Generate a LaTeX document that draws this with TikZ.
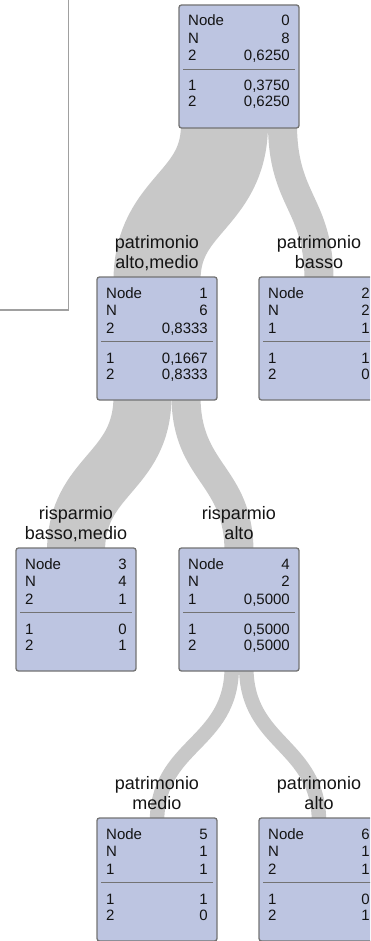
\documentclass[tikz,border=0pt]{standalone}
\usepackage{fontspec}
\setmainfont{Liberation Sans}
\usetikzlibrary{calc}
\definecolor{boxfill}{RGB}{189,197,225}
\definecolor{boxline}{RGB}{115,115,115}
\definecolor{bandcol}{RGB}{200,200,200}
\definecolor{framecol}{RGB}{160,160,160}
\definecolor{txtcol}{RGB}{20,20,20}
\pgfdeclarelayer{bg}
\pgfsetlayers{bg,main}
\tikzset{
  tbox/.style={draw=boxline, line width=1.3pt, fill=boxfill, rounded corners=2.5pt,
    anchor=north west, minimum width=120pt, minimum height=123pt, inner sep=0pt, outer sep=0pt},
  tl/.style={anchor=base west, inner sep=0pt, text=txtcol, font=\fontsize{15}{16}\selectfont},
  tr/.style={anchor=base east, inner sep=0pt, text=txtcol, font=\fontsize{15}{16}\selectfont},
  lab/.style={anchor=base, inner sep=0pt, text=txtcol, font=\fontsize{18}{20}\selectfont},
  sepline/.style={draw=boxline, line width=1.2pt},
  band/.style={draw=bandcol, line cap=butt},
  frameline/.style={draw=framecol, line width=1.2pt}
}
\newcommand\treebox[9]{%
  \node[tbox] (#1) at (#2,-#3) {};
  \node[tl] (#1-a) at ([xshift=9pt,yshift=-21pt]#1.north west) {Node};
  \node[tr] (#1-b) at ([xshift=-9pt,yshift=-21pt]#1.north east) {#4};
  \node[tl] (#1-c) at ([xshift=9pt,yshift=-38.5pt]#1.north west) {N};
  \node[tr] (#1-d) at ([xshift=-9pt,yshift=-38.5pt]#1.north east) {#5};
  \node[tl] (#1-e) at ([xshift=9pt,yshift=-56pt]#1.north west) {#6};
  \node[tr] (#1-f) at ([xshift=-9pt,yshift=-56pt]#1.north east) {#7};
  \draw[sepline] ([xshift=4pt,yshift=-64.5pt]#1.north west) -- ([xshift=-4pt,yshift=-64.5pt]#1.north east);
  \node[tl] (#1-g) at ([xshift=9pt,yshift=-86pt]#1.north west) {1};
  \node[tr] (#1-h) at ([xshift=-9pt,yshift=-86pt]#1.north east) {#8};
  \node[tl] (#1-i) at ([xshift=9pt,yshift=-102pt]#1.north west) {2};
  \node[tr] (#1-j) at ([xshift=-9pt,yshift=-102pt]#1.north east) {#9};
}
\newcommand\boxlabel[3]{%
  \node[lab] (#1-la) at ([yshift=29pt]#1.north) {#2};
  \node[lab] (#1-lb) at ([yshift=9pt]#1.north) {#3};
}
\begin{document}
\begin{tikzpicture}[x=1pt,y=1pt]
\useasboundingbox (0,0) rectangle (370,-941);
\clip (0,0) rectangle (370,-941);
% left panel frame
\coordinate (fa) at (-5,-310);
\coordinate (fb) at (68.3,-310);
\coordinate (fc) at (68.3,5);
\draw[frameline] (fa) -- (fb) -- (fc);
% boxes
\treebox{n0}{179}{5}{0}{8}{2}{0,6250}{0,3750}{0,6250}
\treebox{n1}{97}{277}{1}{6}{2}{0,8333}{0,1667}{0,8333}
\treebox{n2}{259}{277}{2}{2}{1}{1}{1}{0}
\treebox{n3}{16}{548}{3}{4}{2}{1}{0}{1}
\treebox{n4}{179}{548}{4}{2}{1}{0,5000}{0,5000}{0,5000}
\treebox{n5}{97}{818}{5}{1}{1}{1}{1}{0}
\treebox{n6}{259}{818}{6}{1}{2}{1}{0}{1}
% labels
\boxlabel{n1}{patrimonio}{alto,medio}
\boxlabel{n2}{patrimonio}{basso}
\boxlabel{n3}{risparmio}{basso,medio}
\boxlabel{n4}{risparmio}{alto}
\boxlabel{n5}{patrimonio}{medio}
\boxlabel{n6}{patrimonio}{alto}
% bands
\begin{pgfonlayer}{bg}
\draw[band, line width=87pt] ([xshift=-14.5pt,yshift=4pt]n0.south) .. controls +(0,-78) and +(0,78) .. ([yshift=-4pt]n1.north);
\draw[band, line width=29pt] ([xshift=43.5pt,yshift=4pt]n0.south) .. controls +(0,-78) and +(0,78) .. ([yshift=-4pt]n2.north);
\draw[band, line width=58pt] ([xshift=-14.5pt,yshift=4pt]n1.south) .. controls +(0,-78) and +(0,78) .. ([yshift=-4pt]n3.north);
\draw[band, line width=29pt] ([xshift=29pt,yshift=4pt]n1.south) .. controls +(0,-78) and +(0,78) .. ([yshift=-4pt]n4.north);
\draw[band, line width=14.5pt] ([xshift=-7.25pt,yshift=4pt]n4.south) .. controls +(0,-78) and +(0,78) .. ([yshift=-4pt]n5.north);
\draw[band, line width=14.5pt] ([xshift=7.25pt,yshift=4pt]n4.south) .. controls +(0,-78) and +(0,78) .. ([yshift=-4pt]n6.north);
\end{pgfonlayer}
\end{tikzpicture}
\end{document}
